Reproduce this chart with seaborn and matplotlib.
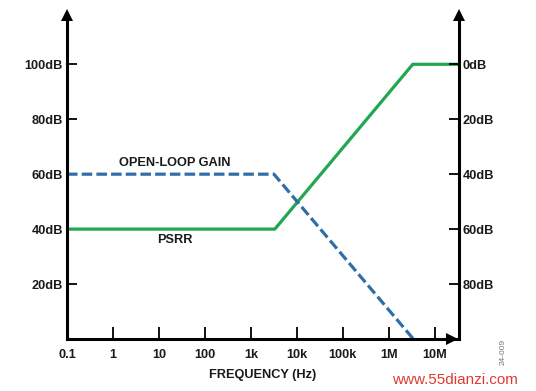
import numpy as np
import pandas as pd
import matplotlib
matplotlib.use("Agg")
import matplotlib.pyplot as plt
import seaborn as sns

# ---- data ----
psrr_freq = [0.1, 3300, 3.3e6, 3.3e7]
psrr_db = [40, 40, 100, 100]
olg_freq = [0.1, 3162, 3.4e6]
olg_db = [60, 60, 0]
x_ticks = [0.1, 1, 10, 100, 1e3, 1e4, 1e5, 1e6, 1e7]
x_labels = ["0.1", "1", "10", "100", "1k", "10k", "100k", "1M", "10M"]
left_ticks = [20, 40, 60, 80, 100]
left_labels = ["20dB", "40dB", "60dB", "80dB", "100dB"]
right_labels = ["80dB", "60dB", "40dB", "20dB", "0dB"]

sns.set_theme(style="white")
plt.rcParams["font.family"] = ["Liberation Sans", "DejaVu Sans"]
plt.rcParams["font.weight"] = "bold"

GREEN = "#22a650"
BLUE = "#2f6ea6"
TXT = "#1a1a1a"
FS = 9.2

fig = plt.figure(figsize=(5.36, 3.91), dpi=100)
ax = fig.add_axes([0.125, 0.133, 0.731, 0.829])

psrr = pd.DataFrame({"f": psrr_freq, "db": psrr_db})
olg = pd.DataFrame({"f": olg_freq, "db": olg_db})
sns.lineplot(data=psrr, x="f", y="db", ax=ax, color=GREEN, lw=2.3,
             solid_capstyle="butt", clip_on=False)
sns.lineplot(data=olg, x="f", y="db", ax=ax, color=BLUE, lw=2.3,
             dashes=False, clip_on=False)
ax.lines[-1].set_dashes([3.3, 1.3])

ax.set_xscale("log")
xmax = 10 ** 7.52
ax.set_xlim(0.1, xmax)
ax.set_ylim(0, 118)

for s in ["left", "right", "bottom"]:
    ax.spines[s].set_visible(True)
    ax.spines[s].set_linewidth(2.2)
    ax.spines[s].set_color("black")
ax.spines["top"].set_visible(False)

ax.set_xticks(x_ticks)
ax.set_xticklabels(x_labels)
ax.xaxis.set_minor_locator(matplotlib.ticker.NullLocator())
ax.set_yticks(left_ticks)
ax.set_yticklabels(left_labels)
ax.tick_params(axis="x", direction="in", length=9, width=1.3, pad=7,
               labelsize=FS, colors="black", labelcolor=TXT, bottom=True)
ax.tick_params(axis="y", direction="in", length=7, width=1.3, pad=3,
               labelsize=FS, colors="black", labelcolor=TXT, left=True)

ax2 = ax.twinx()
ax2.set_ylim(ax.get_ylim())
ax2.set_yticks(left_ticks)
ax2.set_yticklabels(right_labels)
for s in ax2.spines.values():
    s.set_visible(False)
ax2.tick_params(axis="y", direction="in", length=7, width=1.3, pad=3,
                labelsize=FS, colors="black", labelcolor=TXT, right=True)

ax.set_xlabel("FREQUENCY (Hz)", fontsize=FS, color=TXT, labelpad=6,
              fontweight="bold")
ax.set_ylabel("")

# arrows on axes
ax.plot([0.1], [118], marker="^", ms=8, color="black", clip_on=False,
        markeredgewidth=0)
ax.plot([xmax], [118], marker="^", ms=8, color="black", clip_on=False,
        markeredgewidth=0)
ax.plot([10 ** 7.37], [0], marker=">", ms=8, color="black", clip_on=False,
        markeredgewidth=0)

ax.text(10 ** 1.35, 64, "OPEN-LOOP GAIN", fontsize=FS, color=TXT,
        ha="center", va="center", fontweight="bold")
ax.text(10 ** 1.35, 36, "PSRR", fontsize=FS, color=TXT,
        ha="center", va="center", fontweight="bold")

fig.text(503 / 536, 1 - 352 / 391, "24-009", rotation=90, fontsize=6,
         color="#777777", ha="center", va="center", fontweight="normal")
fig.text(455 / 536, 1 - 380 / 391, "www.55dianzi.com", fontsize=11,
         color="#e03a30", ha="center", va="center", fontweight="normal")

fig.savefig("out.png", dpi=100)
